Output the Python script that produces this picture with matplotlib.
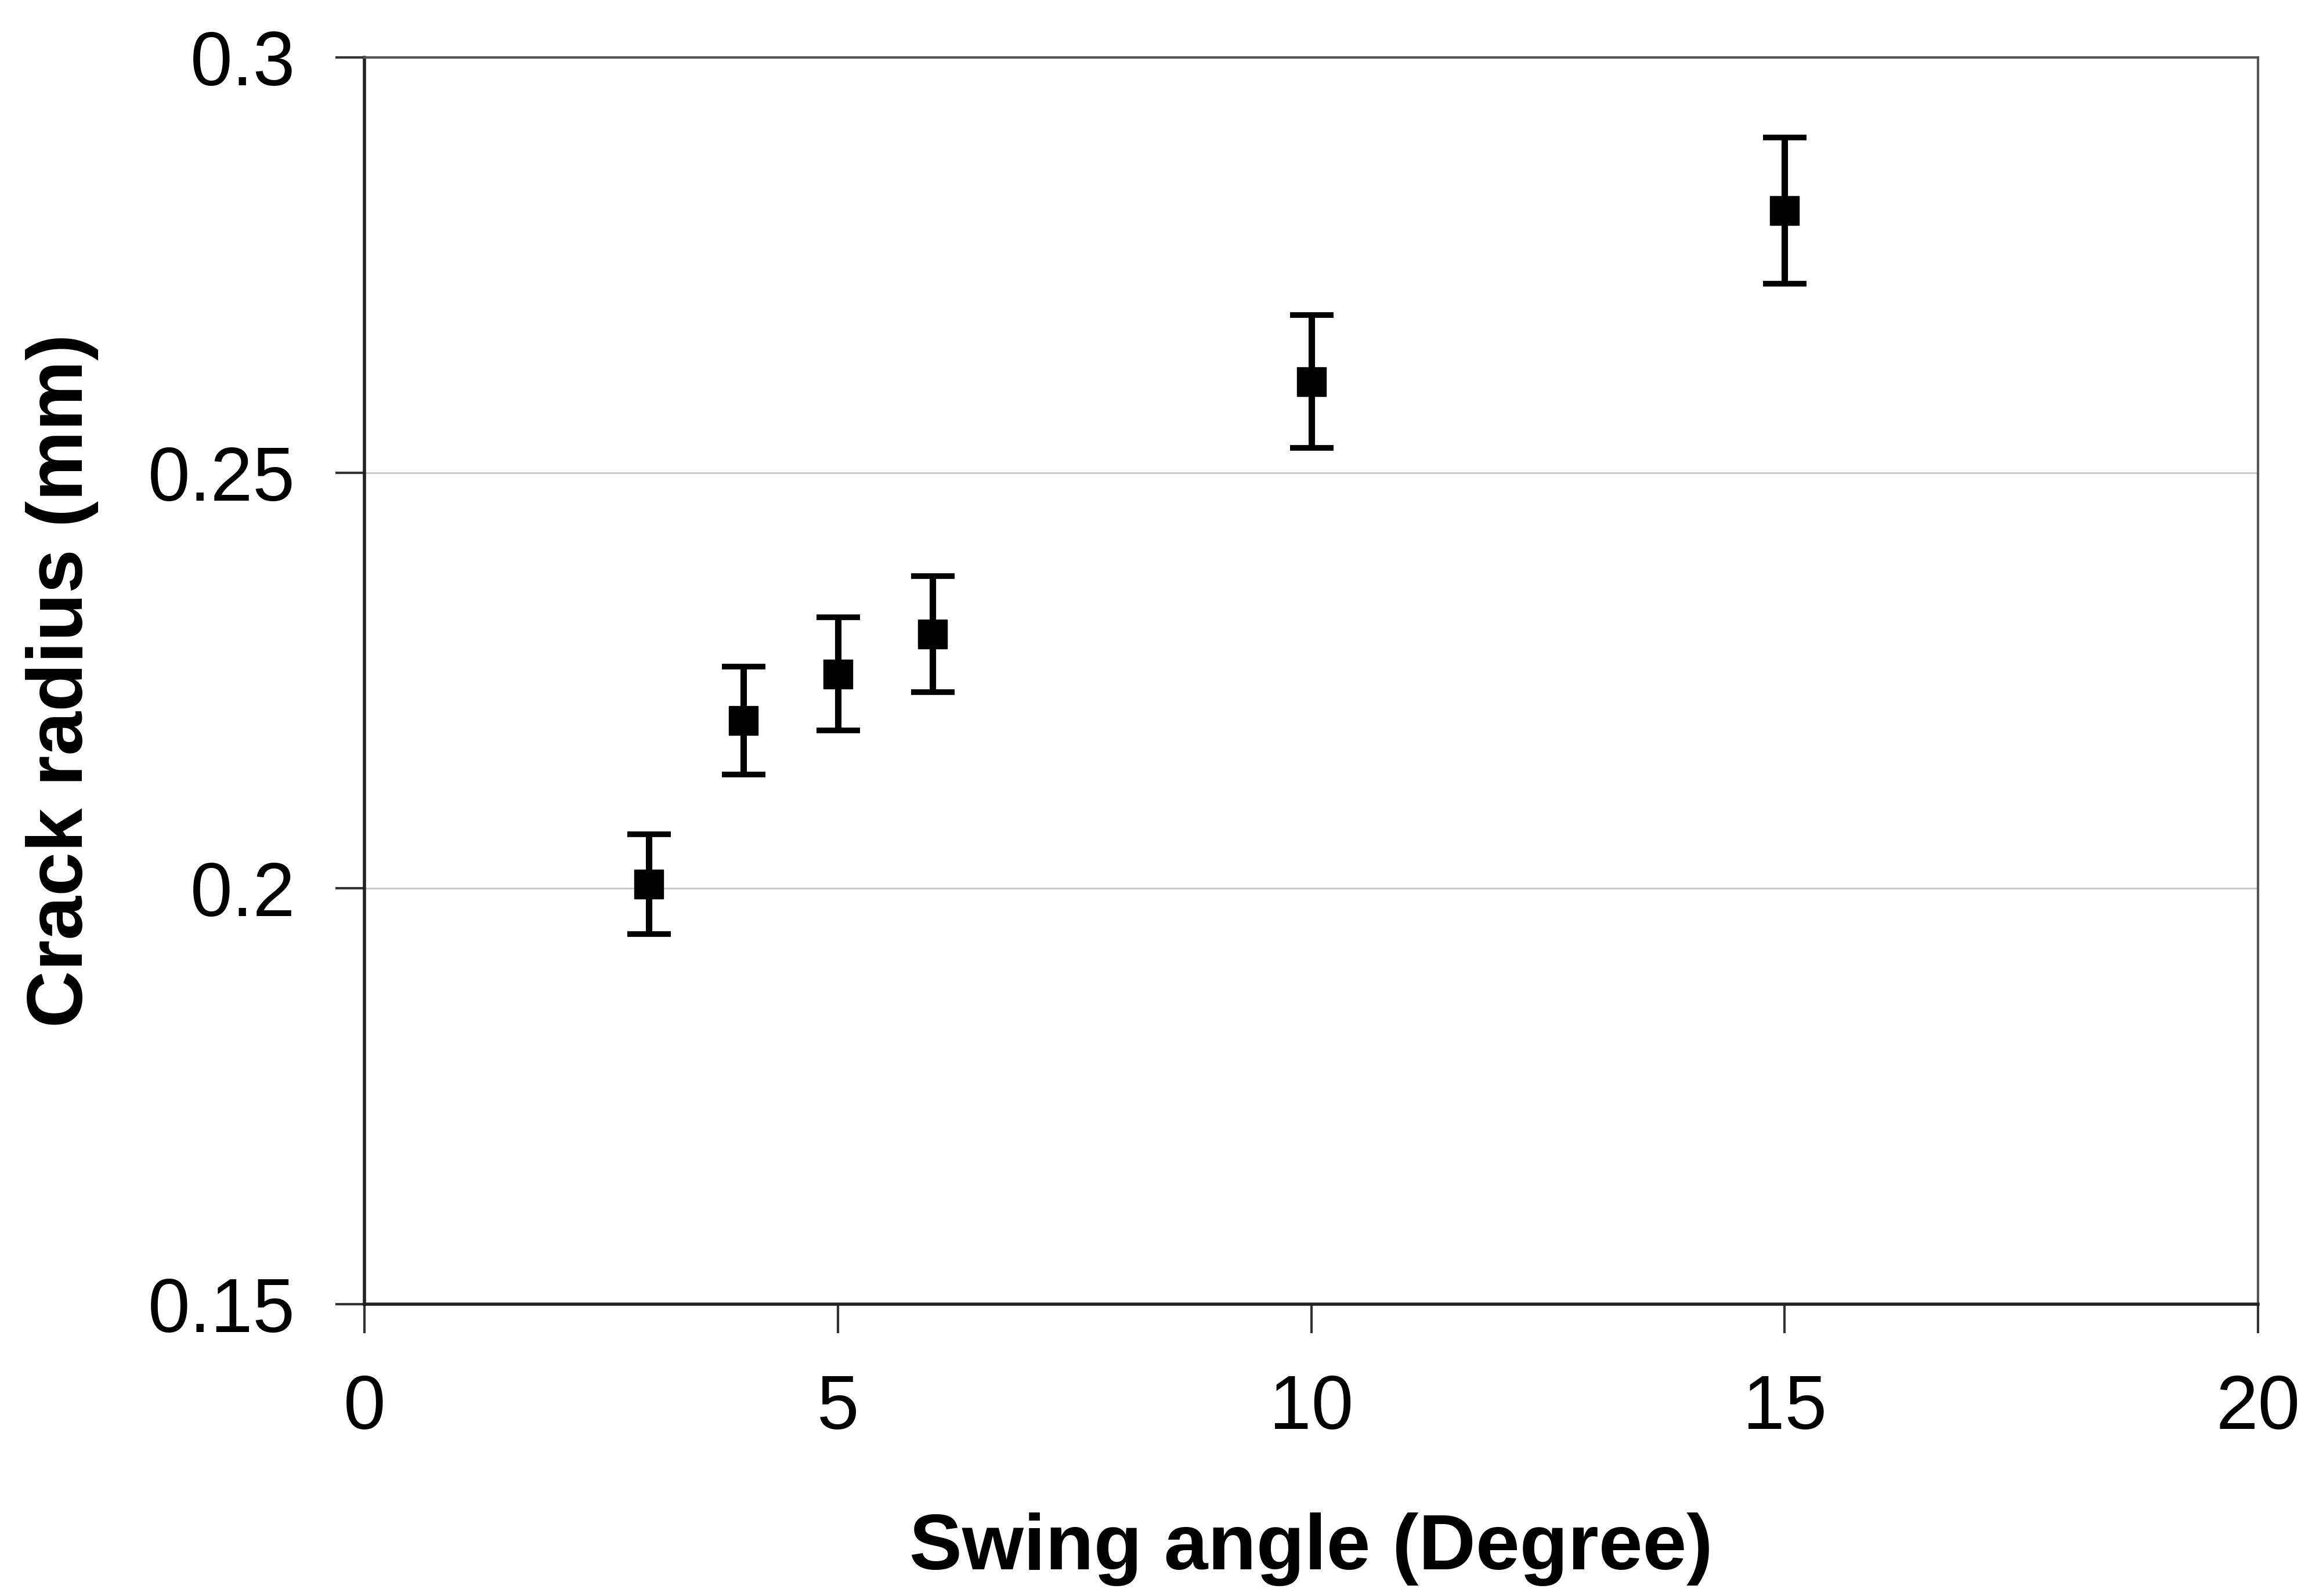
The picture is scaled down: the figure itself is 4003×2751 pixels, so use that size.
import matplotlib
matplotlib.use("Agg")
import matplotlib.pyplot as plt

angles = [3, 4, 5, 6, 10, 15]
radius = [0.2005, 0.2202, 0.2258, 0.2306, 0.2610, 0.2816]
errors = [0.0060, 0.0065, 0.0068, 0.0070, 0.0080, 0.0088]
xticks = [0, 5, 10, 15, 20]
yticks = [0.15, 0.2, 0.25, 0.3]
ytick_labels = ["0.15", "0.2", "0.25", "0.3"]

plt.rcParams['font.family'] = ['Liberation Sans', 'DejaVu Sans']

fig = plt.figure(figsize=(40.03, 27.51), dpi=100)
ax = fig.add_axes([0.157, 0.183, 0.815, 0.781])

for y in [0.2, 0.25]:
    ax.axhline(y, color='#c8c8c8', lw=2, zorder=0)

ax.errorbar(angles, radius, yerr=errors, fmt='s', color='black', markersize=36,
            elinewidth=8, capsize=27, capthick=7, zorder=3)

ax.set_xlim(0, 20)
ax.set_ylim(0.15, 0.3)
ax.set_xticks(xticks)
ax.set_yticks(yticks)
ax.set_yticklabels(ytick_labels)
ax.tick_params(axis='both', labelsize=94, width=3, length=36, direction='out', color='#333333')
ax.tick_params(axis='x', pad=50)
ax.tick_params(axis='y', pad=50)
for s in ['left', 'bottom']:
    ax.spines[s].set_linewidth(4)
    ax.spines[s].set_color('#222222')
for s in ['top', 'right']:
    ax.spines[s].set_linewidth(3)
    ax.spines[s].set_color('#555555')

ax.set_xlabel('Swing angle (Degree)', fontsize=98, fontweight='bold', labelpad=84)
ax.set_ylabel('Crack radius (mm)', fontsize=98, fontweight='bold', labelpad=61)

fig.savefig('out.png', dpi=100, facecolor='white')
